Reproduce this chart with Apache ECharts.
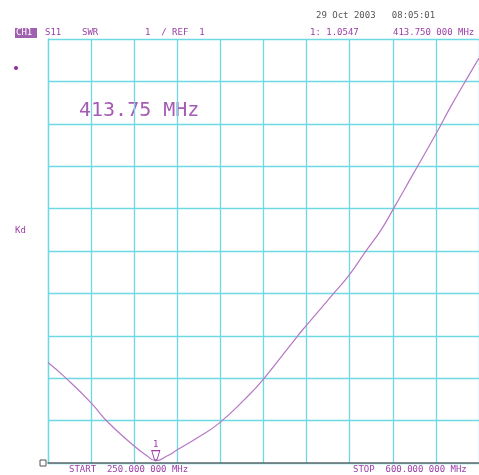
<!DOCTYPE html>
<html>
<head>
<meta charset="utf-8">
<script src="https://cdn.jsdelivr.net/npm/echarts@6/dist/echarts.min.js"></script>
<style>
html,body{margin:0;padding:0;background:#fff;}
#c{width:479px;height:475px;}
</style>
</head>
<body>
<div id="c"></div>
<script>
// Frequency (MHz) and SWR values
const freqMHz = [250, 263.5, 285, 297.7, 320, 329.5, 337.5, 347, 355, 371, 389, 410.7, 425, 452.8, 460, 482.3, 495, 507.7, 520.5, 530, 546, 565, 577.7, 592.9, 600];
const swr     = [3.37, 3.03, 2.42, 1.99, 1.40, 1.19, 1.055, 1.17, 1.31, 1.59, 1.94, 2.53, 2.98, 4.0, 4.25, 5.01, 5.45, 5.98, 6.50, 6.97, 7.79, 8.76, 9.44, 10.2, 10.55];
const markerFreq = 337.5;
const markerSwr = 1.0547;
const headerTexts = {
  date: "29 Oct 2003   08:05:01",
  ch: "CH1",
  param: "S11",
  fmt: "SWR",
  scale: "1  / REF  1",
  mval: "1: 1.0547",
  mfreq: "413.750 000 MHz",
  start: "START  250.000 000 MHz",
  stop: "STOP  600.000 000 MHz",
  big: "413.75 MHz",
  side: "Kd"
};

const purple = '#9a3ea6';
const cyan = '#6fd9e3';
const mono = '"DejaVu Sans Mono", "Liberation Mono", monospace';

const chart = echarts.init(document.getElementById('c'));
const data = freqMHz.map((f, i) => [f, swr[i]]);

chart.setOption({
  backgroundColor: '#fff',
  animation: false,
  grid: { left: 48, top: 39, width: 440, height: 424 },
  xAxis: {
    type: 'value', min: 250, max: 600, interval: 35,
    axisLabel: { show: false }, axisTick: { show: false },
    axisLine: { show: true, lineStyle: { color: '#6a6a6a', width: 1.5 } },
    splitLine: { show: true, lineStyle: { color: cyan, width: 1.3 } }
  },
  yAxis: {
    type: 'value', min: 1, max: 11, interval: 1,
    axisLabel: { show: false }, axisTick: { show: false },
    axisLine: { show: true, lineStyle: { color: cyan, width: 1.3 } },
    splitLine: { show: true, lineStyle: { color: cyan, width: 1.3 } }
  },
  series: [{
    type: 'line',
    data: data,
    smooth: 0.5,
    showSymbol: false,
    clip: false,
    lineStyle: { color: '#b677c4', width: 1.2 },
    markPoint: {
      symbol: 'path://M0,0 L10,0 L7,8 L5,10 L3,8 Z',
      symbolSize: [8, 10],
      symbolOffset: [0, -5],
      itemStyle: { color: 'rgba(255,255,255,0)', borderColor: purple, borderWidth: 1 },
      label: { show: true, position: 'top', distance: 1, formatter: '1', color: purple, fontSize: 9, fontFamily: mono },
      data: [{ coord: [markerFreq, markerSwr] }]
    }
  }],
  graphic: [
    { type: 'text', left: 316, top: 11, style: { text: headerTexts.date, font: '9px ' + mono, fill: '#555' } },
    { type: 'rect', shape: { x: 15, y: 28, width: 22, height: 10 }, style: { fill: '#a060b0' } },
    { type: 'text', left: 16, top: 28, style: { text: headerTexts.ch, font: '9px ' + mono, fill: '#fff' } },
    { type: 'text', left: 45, top: 28, style: { text: headerTexts.param, font: '9px ' + mono, fill: purple } },
    { type: 'text', left: 82, top: 28, style: { text: headerTexts.fmt, font: '9px ' + mono, fill: purple } },
    { type: 'text', left: 145, top: 28, style: { text: headerTexts.scale, font: '9px ' + mono, fill: purple } },
    { type: 'text', left: 310, top: 28, style: { text: headerTexts.mval, font: '9px ' + mono, fill: purple } },
    { type: 'text', left: 393, top: 28, style: { text: headerTexts.mfreq, font: '9px ' + mono, fill: purple } },
    { type: 'text', left: 69, top: 465, style: { text: headerTexts.start, font: '9px ' + mono, fill: purple } },
    { type: 'text', left: 353, top: 465, style: { text: headerTexts.stop, font: '9px ' + mono, fill: purple } },
    { type: 'text', left: 79, top: 101, style: { text: headerTexts.big, font: '20px ' + mono, fill: '#a65cb4' } },
    { type: 'text', left: 15, top: 226, style: { text: headerTexts.side, font: '9px ' + mono, fill: purple } },
    { type: 'circle', shape: { cx: 16, cy: 68, r: 2 }, style: { fill: '#8a2a9a' } },
    { type: 'rect', shape: { x: 40, y: 460, width: 6, height: 6 }, style: { fill: '#fff', stroke: '#555', lineWidth: 1 } }
  ]
});
</script>
</body>
</html>
